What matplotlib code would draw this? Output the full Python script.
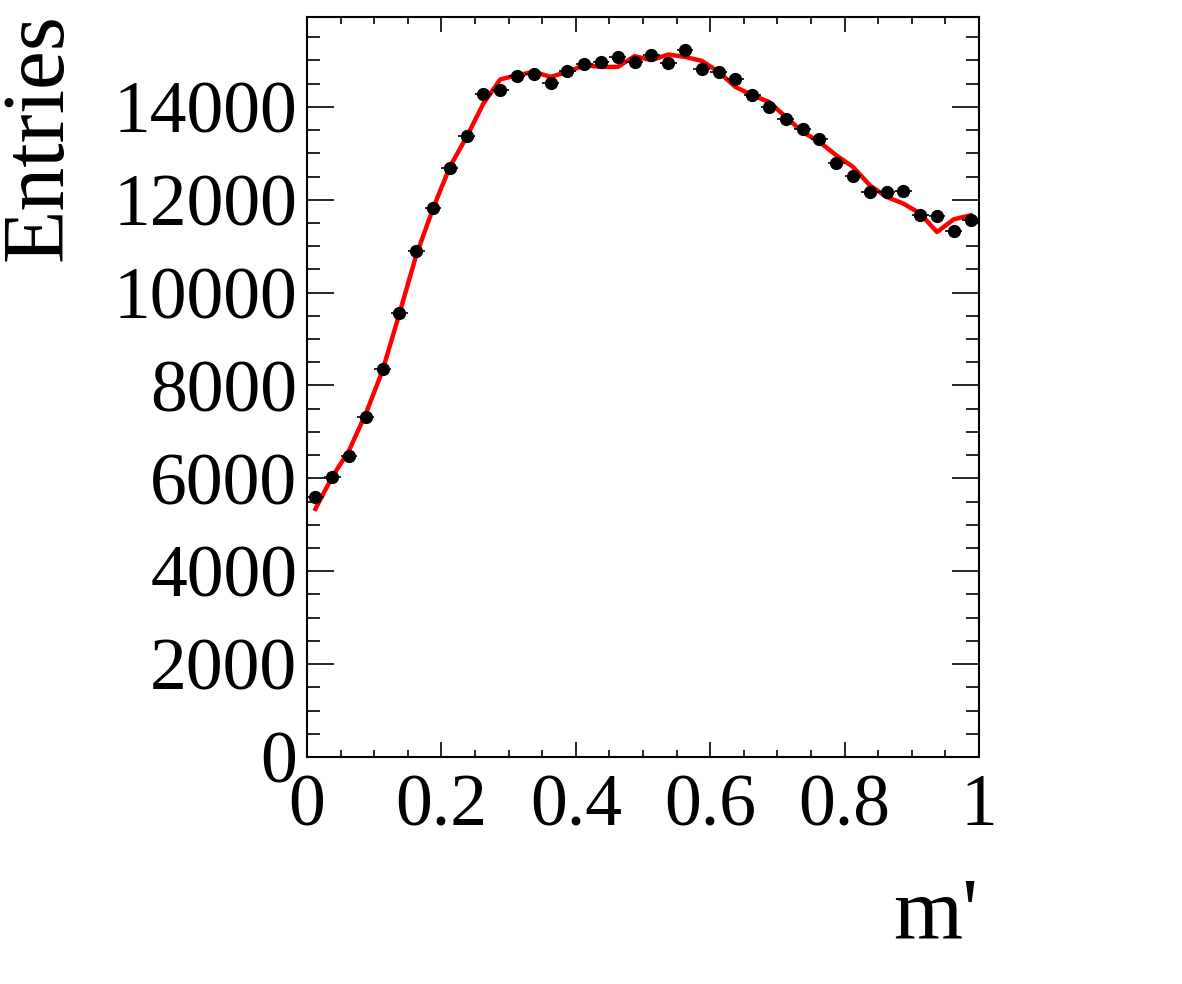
import numpy as np
import matplotlib
matplotlib.use('Agg')
from matplotlib import pyplot as plt
from matplotlib.ticker import MultipleLocator

plt.rcParams['font.family'] = ['Liberation Serif', 'DejaVu Serif']

# binned data, 40 bins in m' from 0 to 1
bin_edges = np.linspace(0, 1, 41)
entries = [5594, 6025, 6478, 7319, 8346, 9560, 10896, 11831, 12685, 13374,
           14272, 14359, 14660, 14718, 14516, 14775, 14925, 14969, 15076, 14969,
           15127, 14947, 15235, 14826, 14753, 14596, 14266, 13999, 13734, 13533,
           13318, 12801, 12512, 12167, 12167, 12189, 11665, 11650, 11327, 11557]
# fit / model curve evaluated at bin centres
model = [5344, 6030, 6600, 7392, 8325, 9547, 10803, 11810, 12706, 13353,
         14072, 14590, 14682, 14753, 14646, 14753, 14897, 14861, 14861, 15092,
         15005, 15127, 15076, 14990, 14753, 14430, 14251, 14107, 13784, 13460,
         13245, 12958, 12706, 12312, 12060, 11917, 11702, 11305, 11579, 11665]

centres = 0.5 * (bin_edges[1:] + bin_edges[:-1])
half_w = 0.5 * (bin_edges[1] - bin_edges[0])
entries = np.array(entries)

fig = plt.figure(figsize=(11.82, 9.84), dpi=100)
ax = fig.add_axes([307/1182, 1 - 757/984, 672/1182, 740/984])

ax.plot(centres, model, color='red', lw=3.2, zorder=2)
ax.errorbar(centres, entries, xerr=half_w, yerr=np.sqrt(entries), fmt='o',
            color='black', ms=8.5, elinewidth=1.2, capsize=0, zorder=3)

ax.set_xlim(0, 1)
ax.set_ylim(0, 15935)
ax.xaxis.set_major_locator(MultipleLocator(0.2))
ax.xaxis.set_minor_locator(MultipleLocator(0.05))
ax.yaxis.set_major_locator(MultipleLocator(2000))
ax.yaxis.set_minor_locator(MultipleLocator(500))
ax.xaxis.set_major_formatter(plt.FuncFormatter(lambda v, p: '%g' % v))

for s in ax.spines.values():
    s.set_linewidth(1.5)
ax.tick_params(axis='both', which='both', direction='in', top=True, right=True,
               width=1.2, labelsize=53)
ax.tick_params(axis='x', which='major', length=11, pad=12)
ax.tick_params(axis='x', which='minor', length=5)
ax.tick_params(axis='y', which='major', length=19.5, pad=7)
ax.tick_params(axis='y', which='minor', length=9.5)

fig.text(40/1182, 1 - 13/984, 'Entries', rotation=90, ha='center', va='top',
         fontsize=63)
fig.text(978/1182, 1 - 939/984, "m'", ha='right', va='baseline', fontsize=64)

fig.savefig('out.png', dpi=100)
